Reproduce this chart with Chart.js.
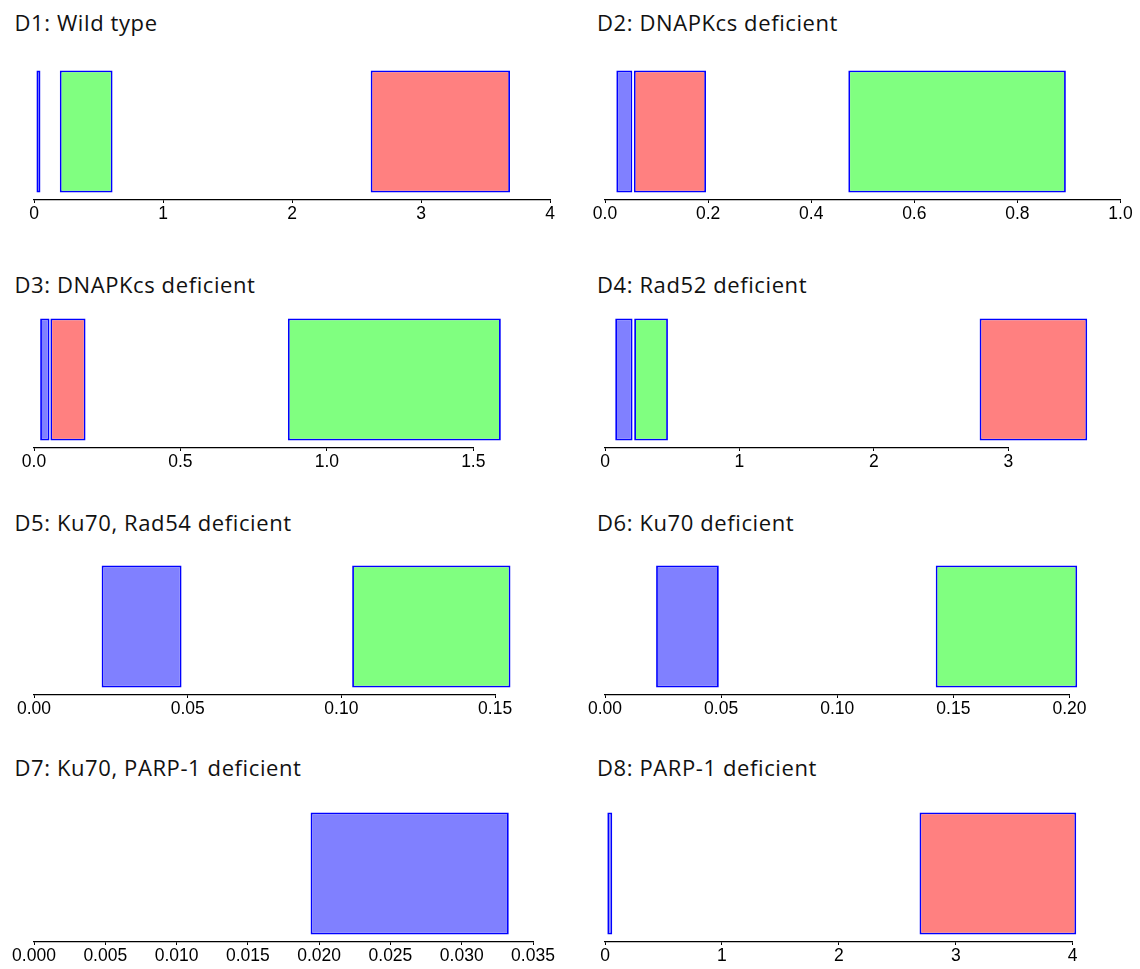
<!DOCTYPE html>
<html><head><meta charset="utf-8">
<script src="https://cdn.jsdelivr.net/npm/chart.js@4.4.1/dist/chart.umd.min.js"></script>
<style>
html,body{margin:0;padding:0;background:#fff;}
#wrap{position:relative;width:1140px;height:969px;overflow:hidden;background:#fff;}
#wrap canvas{position:absolute;}
.t{position:absolute;font-family:'Open Sans',sans-serif;font-size:22px;line-height:22px;letter-spacing:0.6px;color:#111;white-space:nowrap;}
</style></head><body><div id="wrap"></div>
<script>
// ---- data ----
const panelTitles = [
  "D1: Wild type",
  "D2: DNAPKcs deficient",
  "D3: DNAPKcs deficient",
  "D4: Rad52 deficient",
  "D5: Ku70, Rad54 deficient",
  "D6: Ku70 deficient",
  "D7: Ku70, PARP-1 deficient",
  "D8: PARP-1 deficient"
];
const blueRanges  = [[0.019, 0.050], [0.022, 0.053], [0.021, 0.053], [0.076, 0.205], [0.022, 0.048], [0.022, 0.049], [0.0194, 0.0333], [0.020, 0.062]];
const greenRanges = [[0.200, 0.609], [0.472, 0.894], [0.867, 1.594], [0.217, 0.468], [0.1035, 0.155], [0.1424, 0.2033], null, null];
const redRanges   = [[2.61, 3.69], [0.056, 0.196], [0.056, 0.176], [2.786, 3.586], null, null, null, [2.69, 4.03]];
const tickValues = [
  [0, 1, 2, 3, 4],
  [0, 0.2, 0.4, 0.6, 0.8, 1.0],
  [0, 0.5, 1.0, 1.5],
  [0, 1, 2, 3],
  [0, 0.05, 0.10, 0.15],
  [0, 0.05, 0.10, 0.15, 0.20],
  [0, 0.005, 0.010, 0.015, 0.020, 0.025, 0.030, 0.035],
  [0, 1, 2, 3, 4]
];
const tickLabels = [
  ["0", "1", "2", "3", "4"],
  ["0.0", "0.2", "0.4", "0.6", "0.8", "1.0"],
  ["0.0", "0.5", "1.0", "1.5"],
  ["0", "1", "2", "3"],
  ["0.00", "0.05", "0.10", "0.15"],
  ["0.00", "0.05", "0.10", "0.15", "0.20"],
  ["0.000", "0.005", "0.010", "0.015", "0.020", "0.025", "0.030", "0.035"],
  ["0", "1", "2", "3", "4"]
];

// ---- layout ----
const colLeft = [0, 570], colWidth = 570;
const axisStartPad = [34, 35];
const axisEndX = [550, 1120.5, 473.3, 1008.4, 495.1, 1069.5, 533, 1072.7];
const rowAxisY = [200, 448, 695, 942];
const titleBaseline = [30.7, 292.3, 530.7, 775.7];
const titleLeft = [14.5, 597];
const plotH = 137, axisH = 30, barH = 122;

const COLORS = {
  blue:  '#8080ff',
  green: '#80ff80',
  red:   '#ff8080',
  edge:  '#0000ff'
};

const wrap = document.getElementById('wrap');

for (let i = 0; i < 8; i++) {
  const col = i % 2, row = Math.floor(i / 2);
  const t = document.createElement('div');
  t.className = 't';
  t.textContent = panelTitles[i];
  t.style.left = titleLeft[col] + 'px';
  t.style.top = (titleBaseline[row] - 19.5) + 'px';
  wrap.appendChild(t);

  const cv = document.createElement('canvas');
  cv.width = colWidth; cv.height = plotH + axisH;
  cv.style.left = colLeft[col] + 'px';
  cv.style.top = (rowAxisY[row] - plotH) + 'px';
  cv.style.width = colWidth + 'px';
  cv.style.height = (plotH + axisH) + 'px';
  wrap.appendChild(cv);

  const datasets = [];
  const add = (rng, c) => {
    if (!rng) return;
    datasets.push({
      data: [rng],
      backgroundColor: COLORS[c],
      borderColor: COLORS.edge,
      borderWidth: 1.8,
      borderSkipped: false,
      grouped: false,
      clip: false,
      barPercentage: barH / plotH,
      categoryPercentage: 1
    });
  };
  add(blueRanges[i], 'blue');
  add(greenRanges[i], 'green');
  add(redRanges[i], 'red');

  const tv = tickValues[i], tl = tickLabels[i];
  new Chart(cv, {
    type: 'bar',
    data: { labels: [''], datasets },
    options: {
      indexAxis: 'y',
      responsive: false,
      animation: false,
      events: [],
      layout: { padding: { left: axisStartPad[col], right: colLeft[col] + colWidth - axisEndX[i], top: 0, bottom: 0 } },
      plugins: { legend: { display: false }, tooltip: { enabled: false }, title: { display: false } },
      scales: {
        y: { display: false },
        x: {
          type: 'linear',
          min: tv[0],
          max: tv[tv.length - 1],
          afterBuildTicks: s => { s.ticks = tv.map(v => ({ value: v })); },
          afterFit: s => { s.height = axisH; },
          ticks: {
            autoSkip: false, maxRotation: 0, minRotation: 0,
            color: '#000', padding: 2,
            font: { family: "'Liberation Sans', Arial, Helvetica, sans-serif", size: 17.5, lineHeight: 1 },
            callback: (v, idx) => tl[idx]
          },
          grid: { display: true, drawOnChartArea: false, drawTicks: true, tickLength: 3, color: '#000', lineWidth: 1 },
          border: { display: true, color: '#000', width: 1.3 }
        }
      }
    }
  });
}
</script>
</body></html>
